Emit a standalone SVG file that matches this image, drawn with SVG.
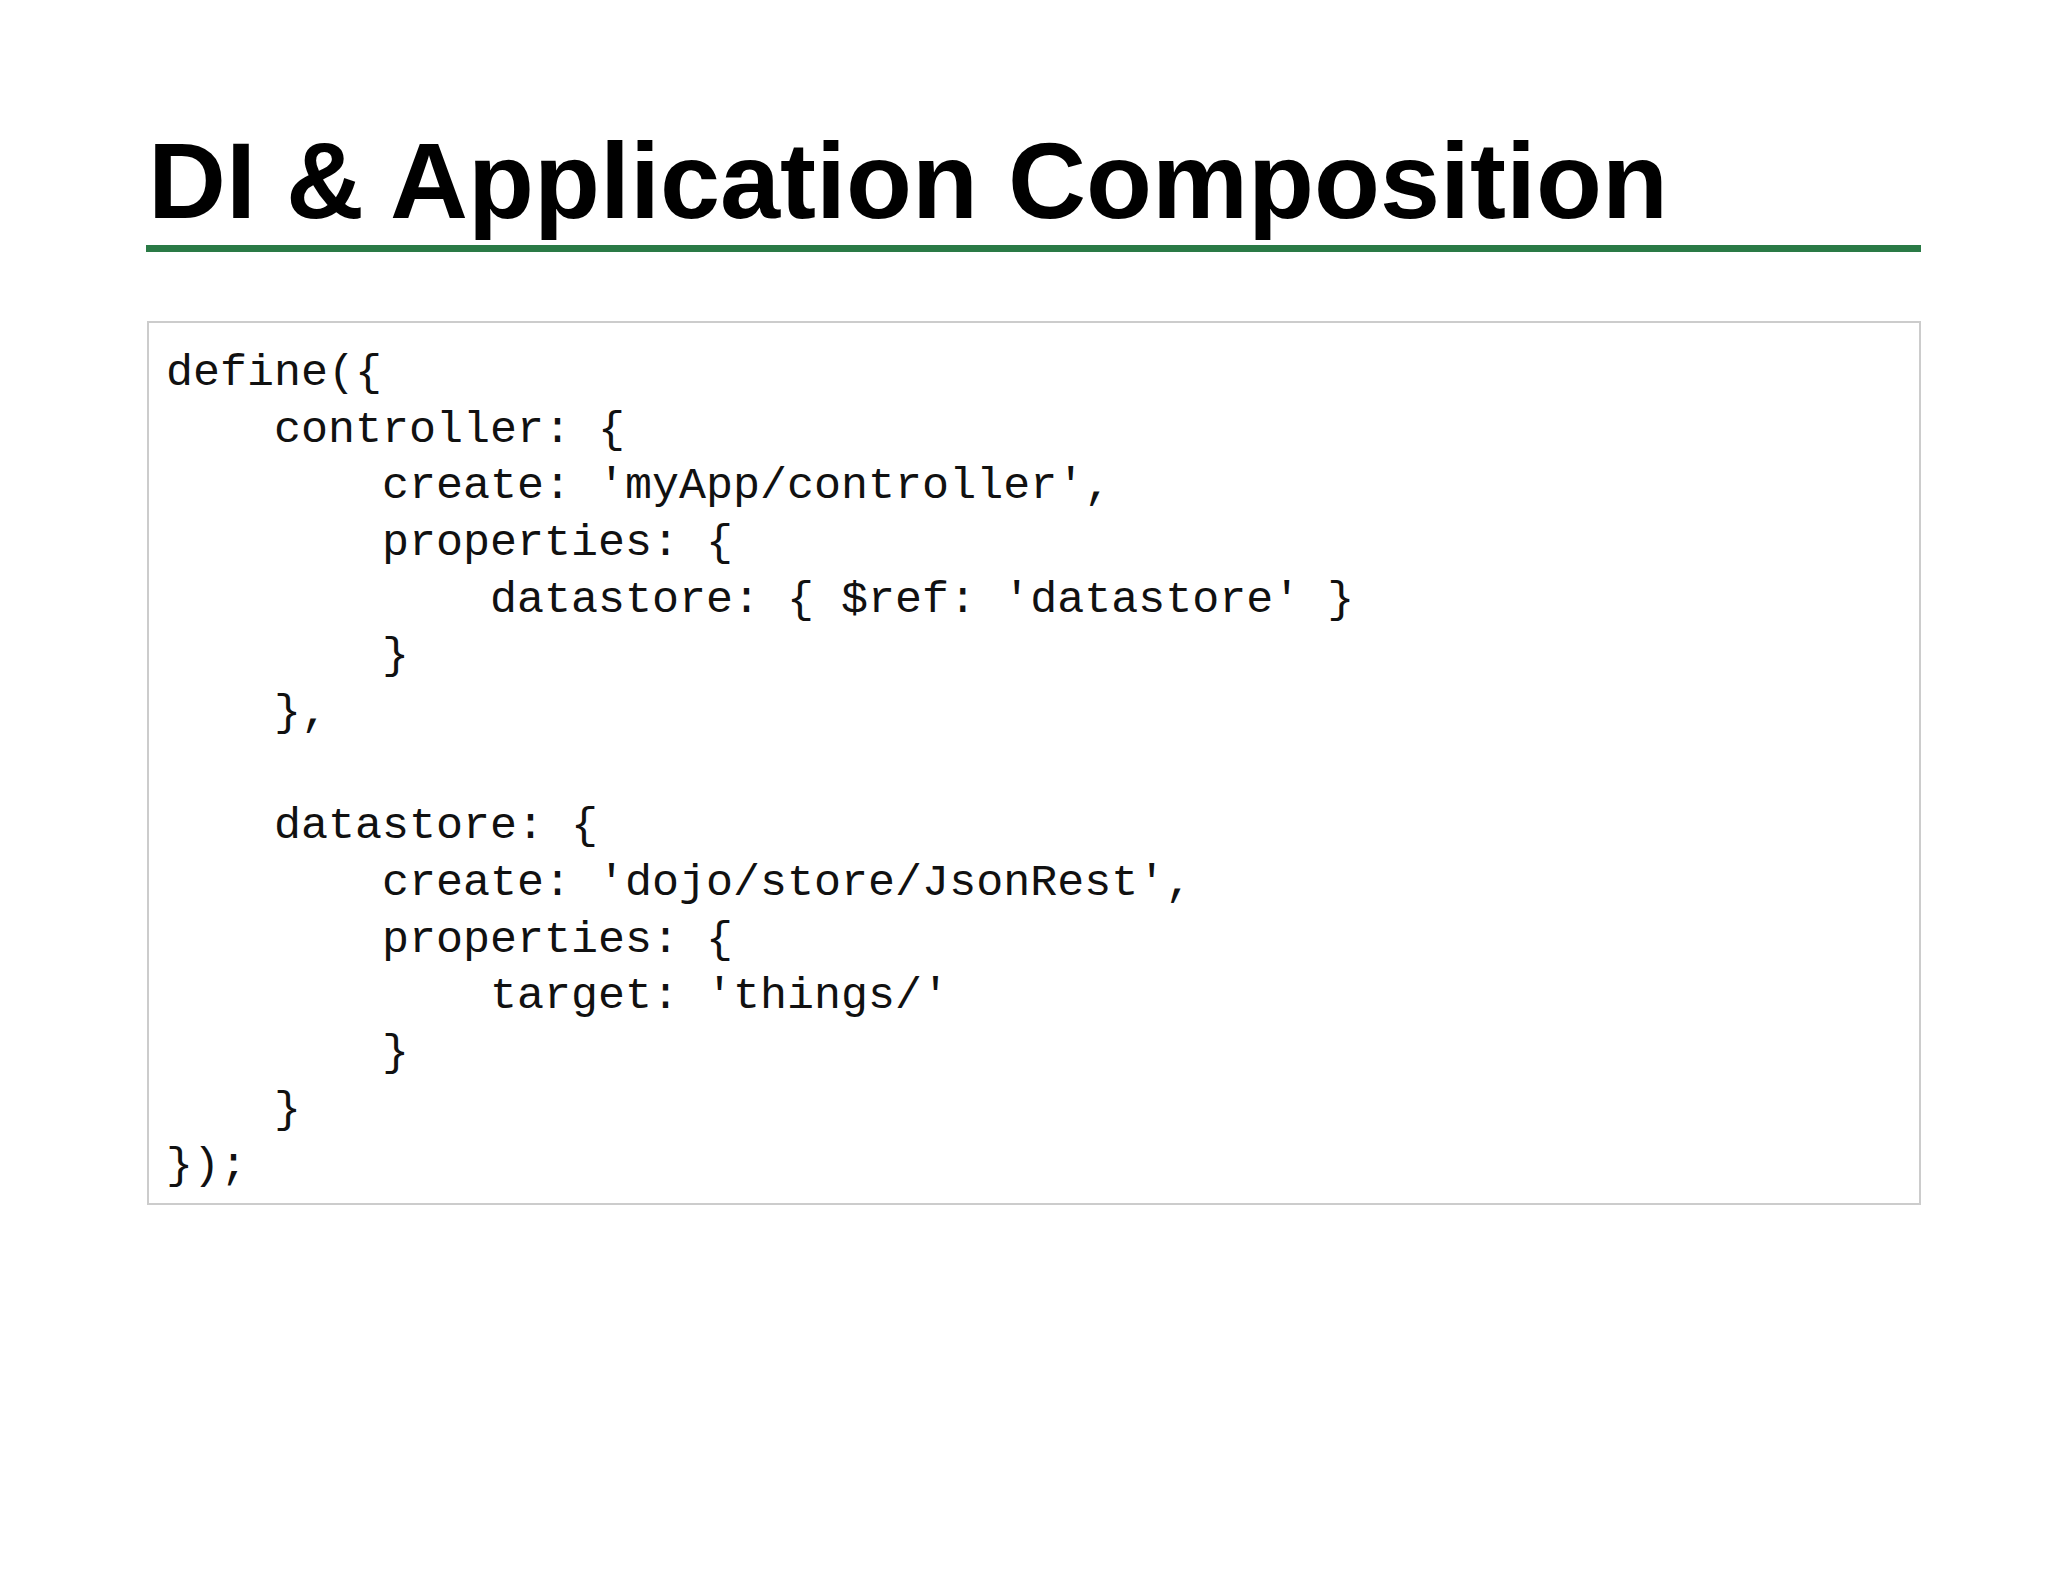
<svg xmlns="http://www.w3.org/2000/svg" width="2048" height="1582" viewBox="0 0 2048 1582">
<style>
.t{font-family:"Liberation Sans",Arial,sans-serif;font-weight:bold;font-size:108px;fill:#000}
.c{font-family:"Liberation Mono","Courier New",monospace;font-size:45px;fill:#111;white-space:pre}
</style>
<rect width="2048" height="1582" fill="#fff"/>
<g id="title"><text class="t" x="148" y="218">DI &amp; Application Composition</text>
<rect x="146" y="245" width="1775" height="7" fill="#2a7a46"/></g>
<g id="code">
<rect x="148" y="322" width="1772" height="882" fill="#fff" stroke="#ccc" stroke-width="2"/>
<text class="c" x="166" y="385" xml:space="preserve">define({</text>
<text class="c" x="166" y="442" xml:space="preserve">    controller: {</text>
<text class="c" x="166" y="498" xml:space="preserve">        create: 'myApp/controller',</text>
<text class="c" x="166" y="555" xml:space="preserve">        properties: {</text>
<text class="c" x="166" y="612" xml:space="preserve">            datastore: { $ref: 'datastore' }</text>
<text class="c" x="166" y="668" xml:space="preserve">        }</text>
<text class="c" x="166" y="725" xml:space="preserve">    },</text>
<text class="c" x="166" y="838" xml:space="preserve">    datastore: {</text>
<text class="c" x="166" y="895" xml:space="preserve">        create: 'dojo/store/JsonRest',</text>
<text class="c" x="166" y="952" xml:space="preserve">        properties: {</text>
<text class="c" x="166" y="1008" xml:space="preserve">            target: 'things/'</text>
<text class="c" x="166" y="1065" xml:space="preserve">        }</text>
<text class="c" x="166" y="1122" xml:space="preserve">    }</text>
<text class="c" x="166" y="1178" xml:space="preserve">});</text>
</g>
</svg>
